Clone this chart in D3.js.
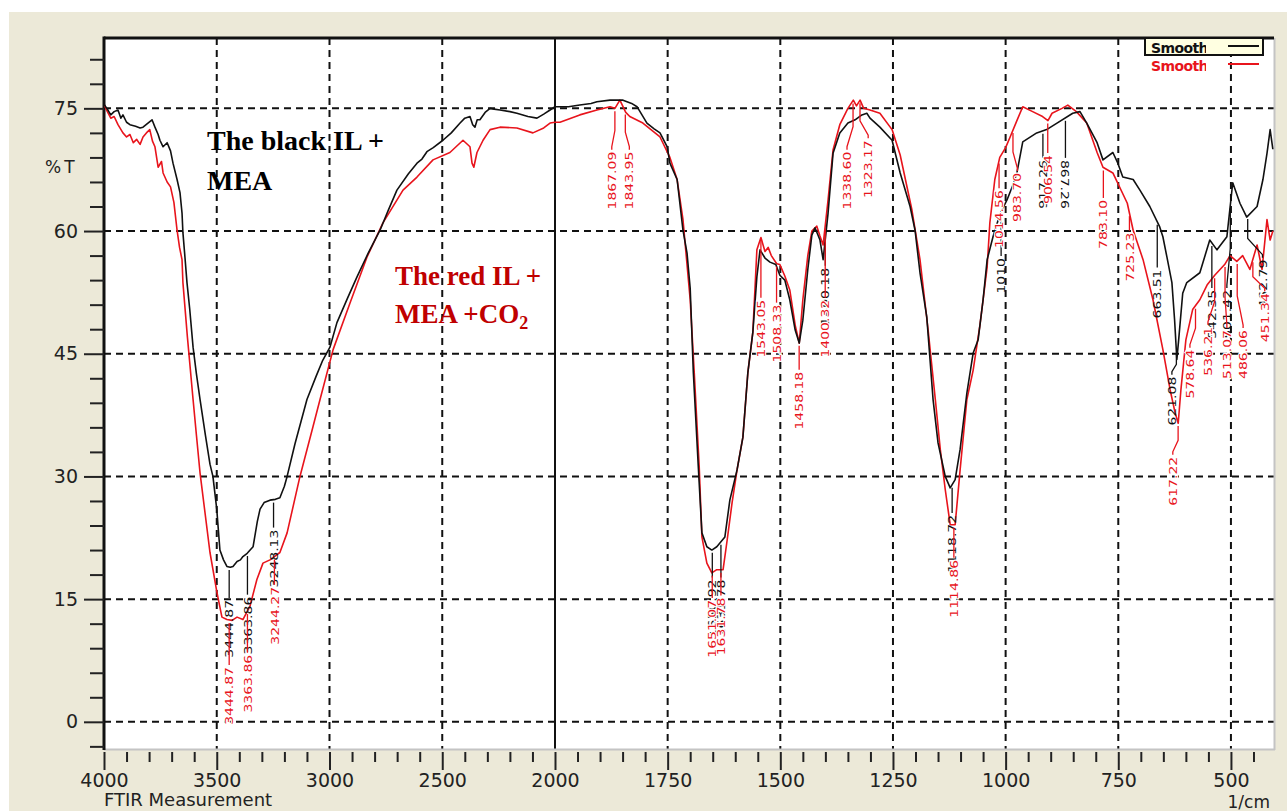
<!DOCTYPE html>
<html>
<head>
<meta charset="utf-8">
<script src="https://cdn.jsdelivr.net/npm/d3@7"></script>
<style>
  html, body { margin: 0; padding: 0; background: #fff; }
  svg { display: block; }
</style>
</head>
<body>
<svg id="chart" width="1287" height="811"></svg>
<script>
// FTIR transmittance spectra (%T vs wavenumber, 1/cm)

// IL + MEA
const blackSpectrum = [
  [4000,75.5],[3985,74.9],[3970,74.2],[3955,74.6],[3938,74.8],[3925,73.8],[3916,74.2],[3900,73.3],[3885,73.0],[3860,72.8],
  [3840,72.6],[3827,72.7],[3805,73.2],[3787,73.6],[3774,72.7],[3760,71.8],[3752,71.1],[3738,70.3],[3720,70.8],[3705,69.8],
  [3694,68.3],[3676,66.3],[3663,64.7],[3654,62.2],[3650,59.8],[3641,56.8],[3632,53.7],[3620,50.5],[3605,45.8],[3590,42.5],
  [3574,39.4],[3550,35.0],[3530,31.5],[3517,30.0],[3500,26.0],[3486,21.0],[3470,19.8],[3455,19.0],[3440,18.9],[3428,19.0],
  [3410,19.6],[3395,19.8],[3384,20.2],[3365,20.6],[3339,21.4],[3320,24.5],[3308,26.0],[3290,26.8],[3264,27.1],[3240,27.2],
  [3220,27.4],[3200,28.8],[3188,30.0],[3153,34.0],[3100,39.4],[3060,42.2],[3030,44.2],[2998,45.8],[2967,48.8],[2920,51.8],
  [2878,54.4],[2830,57.2],[2776,60.1],[2740,62.5],[2701,65.0],[2650,67.0],[2612,68.3],[2590,68.8],[2568,69.7],[2540,70.2],
  [2497,71.1],[2460,72.0],[2421,73.2],[2400,73.8],[2377,74.0],[2365,73.0],[2355,72.7],[2345,73.6],[2333,73.6],[2310,74.5],
  [2288,75.0],[2270,74.9],[2244,74.8],[2200,74.6],[2169,74.4],[2120,74.0],[2080,73.8],[2050,74.3],[2022,74.8],[2000,75.2],
  [1970,75.2],[1945,75.4],[1920,75.6],[1907,75.8],[1878,76.0],[1849,76.0],[1830,75.6],[1818,75.2],[1796,73.2],[1780,72.5],
  [1767,72.0],[1751,70.3],[1745,68.3],[1729,66.3],[1716,60.1],[1707,57.3],[1700,53.0],[1693,42.7],[1682,31.2],[1674,23.1],
  [1663,21.4],[1652,21.0],[1641,21.4],[1623,22.6],[1612,27.1],[1596,30.8],[1583,34.8],[1572,42.7],[1561,47.6],[1552,54.4],
  [1545,57.7],[1534,56.7],[1523,56.2],[1510,55.9],[1501,54.6],[1490,54.0],[1479,51.6],[1467,47.9],[1458,46.3],[1450,49.1],
  [1439,55.3],[1430,59.5],[1423,60.4],[1412,58.9],[1405,56.5],[1394,62.2],[1383,69.5],[1368,72.0],[1350,73.2],[1334,73.6],
  [1319,74.2],[1308,74.4],[1301,73.8],[1279,72.7],[1252,71.1],[1234,67.1],[1212,63.0],[1201,60.1],[1190,54.9],[1175,49.5],
  [1161,39.4],[1150,34.1],[1134,30.0],[1123,28.6],[1112,29.6],[1101,33.3],[1086,40.2],[1072,45.1],[1061,46.7],[1050,51.6],
  [1041,56.5],[1028,59.3],[1013,62.0],[997,63.8],[984,65.6],[975,67.1],[962,70.9],[931,72.0],[909,72.4],[886,73.2],
  [851,74.4],[835,74.6],[820,73.2],[797,70.8],[784,68.7],[762,69.6],[751,68.3],[740,66.6],[717,66.3],[702,65.0],
  [680,63.0],[658,60.5],[651,59.3],[642,56.8],[631,53.7],[625,49.1],[620,44.3],[616,46.7],[607,52.4],[598,53.7],
  [569,54.9],[547,58.9],[531,57.7],[509,59.3],[496,65.9],[480,63.4],[465,61.7],[442,63.0],[429,66.3],[420,69.5],
  [413,72.4],[407,70.0]
];

// IL + MEA + CO2
const redSpectrum = [
  [4000,75.5],[3985,74.6],[3970,73.8],[3955,74.0],[3938,73.0],[3916,72.0],[3900,71.5],[3885,71.8],[3870,70.8],[3855,71.2],
  [3840,70.6],[3827,71.5],[3812,72.0],[3797,72.4],[3785,71.0],[3774,70.3],[3760,67.8],[3745,68.5],[3738,67.1],[3720,66.0],
  [3705,65.4],[3690,63.5],[3676,60.1],[3665,58.0],[3654,56.5],[3650,53.7],[3630,47.0],[3605,39.4],[3590,35.0],[3574,30.4],
  [3530,20.7],[3499,15.8],[3477,12.8],[3455,12.5],[3432,12.4],[3410,12.8],[3384,12.5],[3353,14.1],[3322,17.4],[3295,19.4],
  [3264,19.8],[3220,20.7],[3188,23.1],[3131,30.0],[3073,36.1],[3042,39.4],[2984,45.5],[2909,51.2],[2834,56.8],[2763,61.0],
  [2674,65.0],[2612,66.6],[2541,68.7],[2466,69.6],[2408,71.1],[2377,70.3],[2368,68.3],[2360,67.8],[2346,69.6],[2319,71.1],
  [2288,72.4],[2244,72.7],[2169,72.6],[2098,72.0],[2050,72.6],[2022,73.2],[2000,73.3],[1989,73.3],[1945,74.2],[1907,74.8],
  [1878,75.2],[1867,75.0],[1856,76.0],[1843,74.5],[1834,74.0],[1805,73.2],[1767,71.5],[1745,69.0],[1729,66.3],[1716,61.4],
  [1700,51.6],[1691,42.7],[1680,31.2],[1674,22.6],[1663,19.4],[1652,18.2],[1641,18.6],[1627,18.6],[1618,22.2],[1607,26.8],
  [1596,30.8],[1583,34.8],[1572,42.7],[1561,47.6],[1552,57.7],[1543,59.2],[1534,57.5],[1527,58.0],[1520,57.0],[1508,56.0],
  [1501,55.9],[1490,54.5],[1479,52.8],[1467,48.5],[1458,46.3],[1450,51.6],[1439,57.0],[1430,60.0],[1419,60.6],[1412,59.4],
  [1405,58.3],[1394,63.8],[1383,69.9],[1368,73.0],[1350,75.0],[1338,76.0],[1331,75.3],[1323,76.0],[1315,75.0],[1301,74.8],
  [1279,74.4],[1252,72.4],[1234,69.3],[1208,62.6],[1190,56.5],[1172,47.9],[1156,39.4],[1145,33.3],[1134,28.4],[1123,24.1],
  [1112,24.1],[1101,30.8],[1086,39.4],[1072,43.0],[1057,48.5],[1041,55.6],[1035,61.0],[1024,66.3],[1013,69.0],[1000,70.2],
  [990,71.5],[975,73.5],[962,75.2],[940,74.6],[918,74.0],[906,73.5],[897,74.4],[875,75.0],[862,75.4],[843,74.6],
  [820,73.2],[797,69.6],[784,67.8],[762,67.1],[730,63.4],[717,60.1],[695,56.5],[673,51.6],[651,45.5],[635,40.6],
  [624,37.8],[617,36.5],[611,40.6],[600,46.7],[585,50.4],[569,51.6],[553,53.4],[536,54.6],[514,55.9],[502,57.0],
  [487,56.3],[474,57.0],[458,55.3],[442,58.3],[431,55.3],[420,61.4],[413,58.9],[407,60.0]
];

// Peak picks: [wavenumber, label, %T at the label's upper end, wavenumber where the label sits (optional), direction (optional)]
const blackPeakLabels = [
  [3444.87, "3444.87", 14.9],
  [3363.86, "3363.86", 15.3],
  [3248.13, "3248.13", 23.5],
  [1650.92, "1650.92", 17.4],
  [1631.78, "1631.78", 17.4],
  [1400.18, "1400.18", 55.5],
  [1118.72, "1118.72", 25.3],
  [1010.00, "1010", 56.7],
  [917.26, "917.26", 68.7],
  [867.26, "867.26", 68.7, null, "down"],
  [663.51, "663.51", 55.3],
  [621.08, "621.08", 42.2, 631],
  [542.35, "542.35", 52.8],
  [501.42, "501.42", 52.8, 509],
  [462.79, "462.79", 56.5, 430]
];

const redPeakLabels = [
  [3444.87, "3444.87", 6.7],
  [3363.86, "3363.86", 8.2],
  [3244.27, "3244.27", 16.5],
  [1867.09, "1867.09", 69.7, 1874],
  [1843.95, "1843.95", 69.7, 1835],
  [1651.07, "1651.07", 14.9],
  [1631.78, "1631.78", 15.2],
  [1543.05, "1543.05", 51.6],
  [1508.33, "1508.33", 51.0],
  [1458.18, "1458.18", 42.8],
  [1400.32, "1400.32", 51.6],
  [1338.60, "1338.60", 69.7, 1352],
  [1323.17, "1323.17", 71.1, 1305],
  [1114.86, "1114.86", 19.8],
  [1014.56, "1014.56", 65.0],
  [983.70, "983.70", 67.1, 974],
  [906.54, "906.54", 69.3],
  [783.10, "783.10", 63.8],
  [725.23, "725.23", 59.8],
  [617.22, "617.22", 32.4, 629],
  [578.64, "578.64", 45.5, 591],
  [536.21, "536.21", 48.3, 551],
  [513.07, "513.07", 47.9, 509],
  [486.06, "486.06", 47.9, 473],
  [451.34, "451.34", 52.4, 425]
];

const xMajorTicks = [4000, 3500, 3000, 2500, 2000, 1750, 1500, 1250, 1000, 750, 500];
const xGridValues = [3500, 3000, 2500, 1750, 1500, 1250, 1000, 750, 500];
const yMajorTicks = [0, 15, 30, 45, 60, 75];
const legendLabels = ["Smooth", "Smooth"];

const COL_BLACK = "#111";
const COL_RED = "#e8141c";
const COL_NOTE_RED = "#c00000";
const AXIS_FONT = "'DejaVu Sans', Verdana, sans-serif";

const svg = d3.select("#chart");
const W = 1287, H = 811;
const plot = { left: 104, top: 38, right: 1274, bottom: 749 };

// Wavenumber axis is compressed above 2000 1/cm
const x = d3.scaleLinear().domain([4000, 2000, 400]).range([104, 555, 1276]);
const y = d3.scaleLinear().domain([-3.2, 83.6]).range([748, 38]);

// window background
svg.append("rect").attr("width", W).attr("height", H).attr("fill", "#fff");
svg.append("rect").attr("x", 9).attr("y", 12).attr("width", W - 9).attr("height", H - 12).attr("fill", "#ECE9D8");
svg.append("rect").attr("x", plot.left).attr("y", plot.top)
  .attr("width", plot.right - plot.left).attr("height", plot.bottom - plot.top).attr("fill", "#fff");

svg.append("defs").append("clipPath").attr("id", "plotClip").append("rect")
  .attr("x", plot.left).attr("y", plot.top)
  .attr("width", plot.right - plot.left).attr("height", plot.bottom - plot.top);

// dashed grid
const grid = svg.append("g").attr("stroke", COL_BLACK).attr("stroke-width", 2).attr("stroke-dasharray", "7,5");
grid.selectAll("line.v").data(xGridValues).join("line")
  .attr("x1", d => x(d)).attr("x2", d => x(d)).attr("y1", plot.top).attr("y2", plot.bottom);
grid.selectAll("line.h").data(yMajorTicks).join("line")
  .attr("x1", plot.left).attr("x2", plot.right).attr("y1", d => y(d)).attr("y2", d => y(d));

// solid divider where the wavenumber scale changes
svg.append("line").attr("x1", x(2000)).attr("x2", x(2000)).attr("y1", plot.top).attr("y2", plot.bottom)
  .attr("stroke", COL_BLACK).attr("stroke-width", 2);

// frame
svg.append("line").attr("x1", plot.right + 0.5).attr("x2", plot.right + 0.5).attr("y1", plot.top).attr("y2", plot.bottom + 1)
  .attr("stroke", "#c4c4c4").attr("stroke-width", 2);
svg.append("line").attr("x1", plot.left).attr("x2", plot.right + 1).attr("y1", plot.bottom + 0.5).attr("y2", plot.bottom + 0.5)
  .attr("stroke", "#c4c4c4").attr("stroke-width", 2);
svg.append("line").attr("x1", plot.left).attr("x2", plot.right).attr("y1", plot.top).attr("y2", plot.top)
  .attr("stroke", COL_BLACK).attr("stroke-width", 3);
svg.append("line").attr("x1", plot.left).attr("x2", plot.left).attr("y1", plot.top - 1.5).attr("y2", plot.bottom + 1)
  .attr("stroke", COL_BLACK).attr("stroke-width", 3);

// axes
const xMinorTicks = d3.range(4000, 2000, -100).concat(d3.range(2000, 449, -50))
  .filter(v => !xMajorTicks.includes(v));
const yMinorTicks = d3.range(-3, 82, 3).filter(v => !yMajorTicks.includes(v));

function styleAxis(g) {
  g.select(".domain").remove();
  g.selectAll(".tick line").attr("stroke", "#222").attr("stroke-width", 2);
  g.selectAll(".tick text").attr("fill", "#222").style("font-family", AXIS_FONT).style("font-size", "19px");
}

svg.append("g").attr("transform", "translate(0,752)")
  .call(d3.axisBottom(x).tickValues(xMinorTicks).tickSize(10).tickFormat(""))
  .call(styleAxis);
svg.append("g").attr("transform", "translate(0,752)")
  .call(d3.axisBottom(x).tickValues(xMajorTicks).tickSize(18).tickPadding(4).tickFormat(d3.format("d")))
  .call(styleAxis);

svg.append("g").attr("transform", `translate(${plot.left},0)`)
  .call(d3.axisLeft(y).tickValues(yMinorTicks).tickSize(14).tickFormat(""))
  .call(styleAxis);
svg.append("g").attr("transform", `translate(${plot.left},0)`)
  .call(d3.axisLeft(y).tickValues(yMajorTicks).tickSize(20).tickPadding(6).tickFormat(d3.format("d")))
  .call(styleAxis);

svg.append("text").attr("x", 45).attr("y", 173).text("%T")
  .attr("fill", "#222").style("font-family", AXIS_FONT).style("font-size", "17px").attr("letter-spacing", 3);
svg.append("text").attr("x", 104).attr("y", 806).text("FTIR Measurement")
  .attr("fill", "#222").style("font-family", AXIS_FONT).style("font-size", "18px");
svg.append("text").attr("x", 1270).attr("y", 808).attr("text-anchor", "end").text("1/cm")
  .attr("fill", "#222").style("font-family", AXIS_FONT).style("font-size", "17px");

// spectra
const line = d3.line().x(d => x(d[0])).y(d => y(d[1]));
const curves = svg.append("g").attr("clip-path", "url(#plotClip)").attr("fill", "none")
  .attr("stroke-width", 1.6).attr("stroke-linejoin", "round");
curves.append("path").datum(redSpectrum).attr("d", line).attr("stroke", COL_RED);
curves.append("path").datum(blackSpectrum).attr("d", line).attr("stroke", COL_BLACK);

// linear lookup of %T at a given wavenumber
function sampler(series) {
  const a = series.slice().sort((p, q) => p[0] - q[0]);
  const bis = d3.bisector(d => d[0]).left;
  return wn => {
    const i = bis(a, wn);
    if (i <= 0) return a[0][1];
    if (i >= a.length) return a[a.length - 1][1];
    const p = a[i - 1], q = a[i];
    return p[1] + (wn - p[0]) / (q[0] - p[0]) * (q[1] - p[1]);
  };
}

const LABEL_SIZE = 14, LABEL_SQUASH = 0.8;
const halfCap = LABEL_SIZE * 0.73 * LABEL_SQUASH / 2;

function drawPeakLabels(peaks, series, color, halo) {
  const at = sampler(series);
  const g = svg.append("g");
  peaks.forEach(([wn, label, topT, labelWn, dir]) => {
    const px = x(wn);
    const lx = x(labelWn == null ? wn : labelWn);
    const cy = y(at(wn)) + 3;
    const ty = y(topT) - 2;
    const mid = cy + (ty - cy) * 0.5;
    g.append("path")
      .attr("d", `M${px},${cy}V${mid}L${lx},${ty - 3}V${ty}`)
      .attr("fill", "none").attr("stroke", color).attr("stroke-width", 1.3);
    const down = dir === "down";
    const t = g.append("text")
      .attr("transform", down
        ? `translate(${lx - halfCap},${y(topT)}) rotate(90) scale(1,${LABEL_SQUASH})`
        : `translate(${lx + halfCap},${y(topT)}) rotate(-90) scale(1,${LABEL_SQUASH})`)
      .attr("text-anchor", down ? "start" : "end")
      .attr("fill", color)
      .style("font-family", AXIS_FONT).style("font-size", LABEL_SIZE + "px")
      .text(label);
    if (halo) {
      t.attr("stroke", "#fff").attr("stroke-width", 2.5).attr("paint-order", "stroke");
    }
  });
}

drawPeakLabels(blackPeakLabels, blackSpectrum, COL_BLACK, false);
drawPeakLabels(redPeakLabels, redSpectrum, COL_RED, true);

// legend
const legend = svg.append("g");
legend.append("defs").append("clipPath").attr("id", "legendClip").append("rect")
  .attr("x", 1140).attr("y", 30).attr("width", 66).attr("height", 50);
legend.append("rect").attr("x", 1145).attr("y", 38).attr("width", 118).attr("height", 17)
  .attr("fill", "#ffffe1").attr("stroke", COL_BLACK).attr("stroke-width", 2);
const legendColors = [COL_BLACK, COL_RED];
legendLabels.forEach((lab, i) => {
  const ly = 46 + i * 18;
  legend.append("text").attr("x", 1151).attr("y", ly + 7).text(lab)
    .attr("clip-path", "url(#legendClip)")
    .attr("fill", legendColors[i]).style("font-family", AXIS_FONT).style("font-size", "14px")
    .style("font-weight", "bold").attr("letter-spacing", -0.6);
  legend.append("line").attr("x1", 1228).attr("x2", 1259).attr("y1", ly).attr("y2", ly)
    .attr("stroke", legendColors[i]).attr("stroke-width", 2);
});

// sample annotations
const noteFont = "'Liberation Serif', 'Times New Roman', serif";
const notes = svg.append("g").style("font-family", noteFont).style("font-weight", "bold");
notes.append("text").attr("x", 207).attr("y", 150).attr("fill", "#000").style("font-size", "28px").text("The black IL +");
notes.append("text").attr("x", 207).attr("y", 190).attr("fill", "#000").style("font-size", "28px").text("MEA");
notes.append("text").attr("x", 395).attr("y", 285).attr("fill", COL_NOTE_RED).style("font-size", "27px").text("The red IL +");
const co2 = notes.append("text").attr("x", 395).attr("y", 323).attr("fill", COL_NOTE_RED).style("font-size", "27px");
co2.append("tspan").text("MEA +CO");
co2.append("tspan").attr("dy", 6).style("font-size", "18px").text("2");
</script>
</body>
</html>
